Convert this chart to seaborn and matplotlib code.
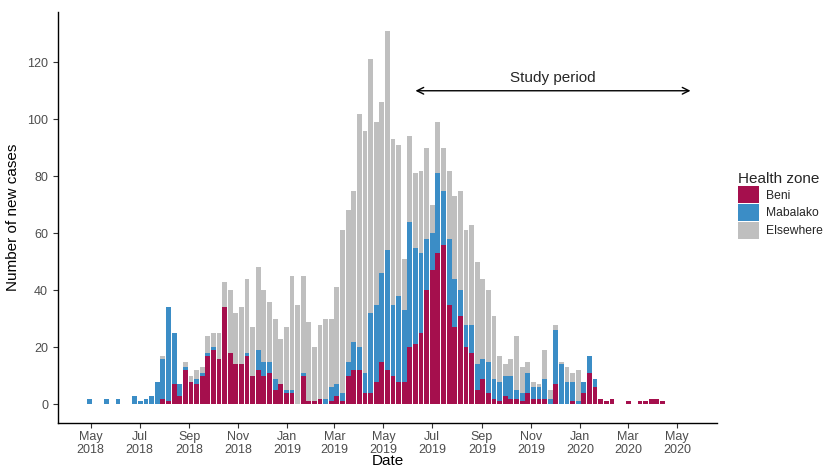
import numpy as np
import pandas as pd
import matplotlib
matplotlib.use("Agg")
import matplotlib.pyplot as plt
import matplotlib.dates as mdates
from matplotlib.patches import Patch
import seaborn as sns

# weekly new cases, one value per week starting 2018-04-30
first_week = "2018-04-30"
beni = [0, 0, 0, 0, 0, 0, 0, 0, 0, 0, 0, 0, 0, 2, 1, 7, 3, 12, 8, 7,
        10, 17, 19, 16, 34, 18, 14, 14, 17, 10, 12, 10, 11, 5, 7, 4, 4, 0, 10, 1,
        1, 2, 0, 1, 3, 1, 10, 12, 12, 4, 4, 8, 15, 12, 10, 8, 8, 20, 21, 25,
        40, 47, 53, 56, 35, 27, 31, 20, 18, 5, 9, 4, 2, 1, 3, 2, 2, 1, 4, 2,
        2, 2, 0, 7, 0, 0, 1, 0, 4, 11, 6, 2, 1, 2, 0, 0, 1, 0, 1, 1,
        2, 2, 1]
mabalako = [2, 0, 0, 2, 0, 2, 0, 0, 3, 1, 2, 3, 8, 14, 33, 18, 4, 1, 0, 2,
            1, 1, 1, 0, 0, 0, 0, 0, 1, 0, 7, 5, 4, 4, 0, 1, 1, 0, 1, 0,
            0, 0, 2, 5, 4, 3, 5, 10, 8, 7, 28, 27, 31, 42, 25, 30, 25, 44, 34, 28,
            18, 13, 28, 19, 23, 17, 9, 8, 10, 9, 7, 11, 7, 7, 7, 8, 3, 3, 7, 4,
            4, 7, 2, 19, 14, 8, 7, 1, 4, 6, 3, 0, 0, 0, 0, 0, 0, 0, 0, 0,
            0, 0, 0]
elsewhere = [0, 0, 0, 0, 0, 0, 0, 0, 0, 0, 0, 0, 0, 1, 0, 0, 0, 2, 2, 3,
             2, 6, 5, 9, 9, 22, 18, 20, 26, 17, 29, 25, 21, 21, 16, 22, 40, 35, 34, 28,
             19, 26, 28, 24, 34, 57, 53, 53, 82, 85, 89, 64, 60, 77, 58, 53, 18, 30, 26, 29,
             32, 10, 18, 15, 24, 29, 35, 33, 35, 36, 28, 25, 22, 9, 4, 6, 19, 9, 4, 2,
             1, 10, 3, 2, 1, 5, 3, 11, 0, 0, 0, 0, 0, 0, 0, 0, 0, 0, 0, 0,
             0, 0, 0]

zones = ["Beni", "Mabalako", "Elsewhere"]
zone_colors = ["#A50F4D", "#3B8DC6", "#BFBFBF"]
tick_months = pd.date_range("2018-05-01", "2020-05-01", freq="2MS")
study_start, study_end = "2019-06-10", "2020-05-18"
study_label = "Study period"
study_y = 110

weeks = pd.date_range(first_week, periods=len(beni), freq="7D")
df = pd.DataFrame({"week": weeks, "Beni": beni, "Mabalako": mabalako, "Elsewhere": elsewhere})
df["x"] = mdates.date2num(df["week"])
df["beni_mab"] = df["Beni"] + df["Mabalako"]
df["total"] = df["beni_mab"] + df["Elsewhere"]

sns.set_theme(style="ticks")
plt.rcParams["font.family"] = ["Liberation Sans", "DejaVu Sans"]

fig = plt.figure(figsize=(8.26, 4.70), dpi=100)
ax = fig.add_axes([0.070, 0.100, 0.798, 0.874])

# stacked look: draw cumulative totals back to front
layers = [("total", zone_colors[2]), ("beni_mab", zone_colors[1]), ("Beni", zone_colors[0])]
for col, color in layers:
    sns.barplot(data=df, x="x", y=col, native_scale=True, color=color, saturation=1,
                width=0.86, errorbar=None, linewidth=0, ax=ax)

ax.set_xlim(mdates.date2num(pd.Timestamp("2018-03-21")), mdates.date2num(pd.Timestamp("2020-06-20")))
ax.set_ylim(-6.55, 137.55)
ax.set_yticks(range(0, 121, 20))
ax.set_xticks(mdates.date2num(tick_months))
ax.set_xticklabels([f"{d:%b}\n{d:%Y}" for d in tick_months], linespacing=1.05)

ax.tick_params(axis="both", labelsize=9, colors="#333333", labelcolor="#4D4D4D",
               length=3.5, width=0.8, direction="out")
ax.tick_params(axis="x", pad=2.5)
for s in ["left", "bottom"]:
    ax.spines[s].set_color("black")
    ax.spines[s].set_linewidth(1.0)
sns.despine(ax=ax)

ax.set_xlabel("Date", fontsize=11, color="black", labelpad=-1)
ax.set_ylabel("Number of new cases", fontsize=11, color="black", labelpad=5)

# study period arrow
x0 = mdates.date2num(pd.Timestamp(study_start))
x1 = mdates.date2num(pd.Timestamp(study_end))
ax.annotate("", xy=(x1, study_y), xytext=(x0, study_y),
            arrowprops=dict(arrowstyle="<->", color="black", lw=1, shrinkA=0, shrinkB=0,
                            mutation_scale=12))
ax.text((x0 + x1) / 2, study_y + 4.5, study_label, ha="center", va="center", fontsize=11)

handles = [Patch(facecolor=c, edgecolor="none") for c in zone_colors]
leg = fig.legend(handles, zones, title="Health zone", loc="upper left",
                 bbox_to_anchor=(0.893, 0.635), frameon=False, fontsize=8.7,
                 title_fontsize=11, handlelength=1.8, handleheight=1.8,
                 labelspacing=0.05, handletextpad=0.55, borderpad=0, borderaxespad=0,
                 alignment="left")

fig.savefig("out.png", dpi=100)
